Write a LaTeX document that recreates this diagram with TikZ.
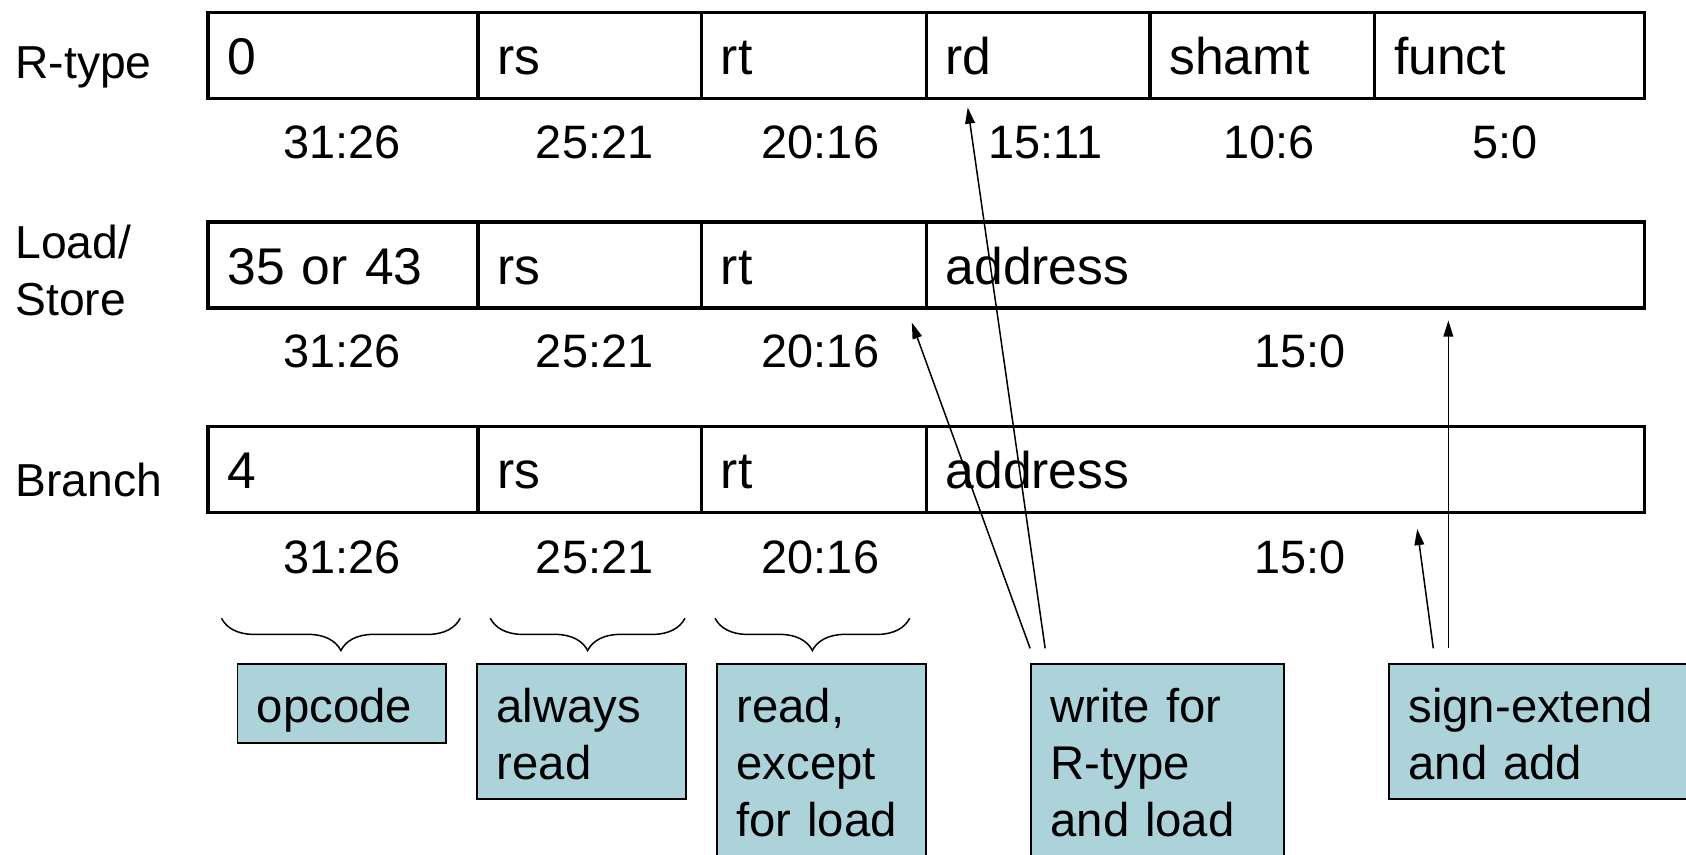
\documentclass[tikz,border=0pt]{standalone}
\usepackage{fontspec}
\setmainfont{Liberation Sans}
\usetikzlibrary{arrows.meta,decorations.pathreplacing,calc}
\definecolor{notebox}{RGB}{173,211,218}
\begin{document}
\begin{tikzpicture}[x=0.5pt,y=-0.5pt,
  cell/.style={draw, line width=1.5pt, anchor=north west, inner xsep=9pt, inner ysep=0pt,
    text height=29pt, text depth=11pt, align=left, font=\fontsize{24}{28}\selectfont},
  rowlabel/.style={anchor=base west, inner sep=0pt, align=left, font=\fontsize{21.5}{26.5}\selectfont},
  bits/.style={anchor=base, inner sep=0pt, font=\fontsize{21.8}{26}\selectfont},
  note/.style={draw, line width=0.9pt, fill=notebox, anchor=north west, inner xsep=9pt, inner ysep=0pt,
    text height=27pt, align=left, font=\fontsize{22}{26.5}\selectfont},
  bracestyle/.style={line width=0.7pt, decorate, decoration={brace, mirror, amplitude=15pt}},
  arr/.style={line width=0.7pt, -{Triangle[length=7.5pt,width=4.5pt]}}
]
\clip (0,0) rectangle (1568,795);
\fill[white] (0,0) rectangle (1568,795);

% Row labels
\node[rowlabel] (lr) at (14,73) {R-type};
\node[rowlabel] (ll) at (14,293) {Load/\\Store};
\node[rowlabel] (lb) at (14,462) {Branch};

% Row 1: R-type
\node[cell, text width=107.5pt] (r1a) at (192,10) {0};
\node[cell, text width=86pt]    (r1b) at (443,10) {rs};
\node[cell, text width=86.5pt]  (r1c) at (651,10) {rt};
\node[cell, text width=86pt]    (r1d) at (860,10) {rd};
\node[cell, text width=86.5pt]  (r1e) at (1068,10) {shamt};
\node[cell, text width=107.5pt] (r1f) at (1277,10) {funct};

% Row 2: Load/Store
\node[cell, text width=107.5pt] (r2a) at (192,205) {35 or 43};
\node[cell, text width=86pt]    (r2b) at (443,205) {rs};
\node[cell, text width=86.5pt]  (r2c) at (651,205) {rt};
\node[cell, text width=316pt]   (r2d) at (860,205) {address};

% Row 3: Branch
\node[cell, text width=107.5pt] (r3a) at (192,395) {4};
\node[cell, text width=86pt]    (r3b) at (443,395) {rs};
\node[cell, text width=86.5pt]  (r3c) at (651,395) {rt};
\node[cell, text width=316pt]   (r3d) at (860,395) {address};

% Bit ranges
\node[bits] (b1a) at (318,147) {31:26};
\node[bits] (b1b) at (553,147) {25:21};
\node[bits] (b1c) at (763,147) {20:16};
\node[bits] (b1d) at (972,147) {15:11};
\node[bits] (b1e) at (1180,147) {10:6};
\node[bits] (b1f) at (1400,147) {5:0};

\node[bits] (b2a) at (318,342) {31:26};
\node[bits] (b2b) at (553,342) {25:21};
\node[bits] (b2c) at (763,342) {20:16};
\node[bits] (b2d) at (1209,342) {15:0};

\node[bits] (b3a) at (318,533) {31:26};
\node[bits] (b3b) at (553,533) {25:21};
\node[bits] (b3c) at (763,533) {20:16};
\node[bits] (b3d) at (1209,533) {15:0};

% Braces
\coordinate (br1s) at (206,575); \coordinate (br1e) at (428,575);
\coordinate (br2s) at (456,575); \coordinate (br2e) at (637,575);
\coordinate (br3s) at (665,575); \coordinate (br3e) at (846,575);
\draw[bracestyle] (br1s) -- (br1e);
\draw[bracestyle] (br2s) -- (br2e);
\draw[bracestyle] (br3s) -- (br3e);

% Notes
\node[note, text width=79pt, text depth=9.5pt] (nop) at (220,617) {opcode};
\node[note, text width=79pt, text depth=35.5pt] (nalw) at (443,617) {always\\read};
\node[note, text width=79pt, text depth=98pt] (nread) at (666,617) {read,\\except\\for load};
\node[note, text width=99.5pt, text depth=98pt] (nwrite) at (958,617) {write for\\R-type\\and load};
\node[note, text width=132pt, text depth=35.5pt] (nsign) at (1291,617) {sign-extend\\and add};

% Arrows
\coordinate (t1) at (848,300);
\coordinate (t2) at (900,100);
\coordinate (t3) at (1318,492);
\coordinate (t4) at (1347,298);
\coordinate (s1) at ($(nwrite.north west)+(0,-14)$);
\coordinate (s2) at ($(nwrite.north west)+(14,-14)$);
\coordinate (s3) at ($(nsign.north west)+(42,-14)$);
\coordinate (s4) at ($(nsign.north west)+(56,-14)$);
\draw[arr] (s1) -- (t1);
\draw[arr] (s2) -- (t2);
\draw[arr] (s3) -- (t3);
\draw[arr] (s4) -- (t4);
\end{tikzpicture}
\end{document}
